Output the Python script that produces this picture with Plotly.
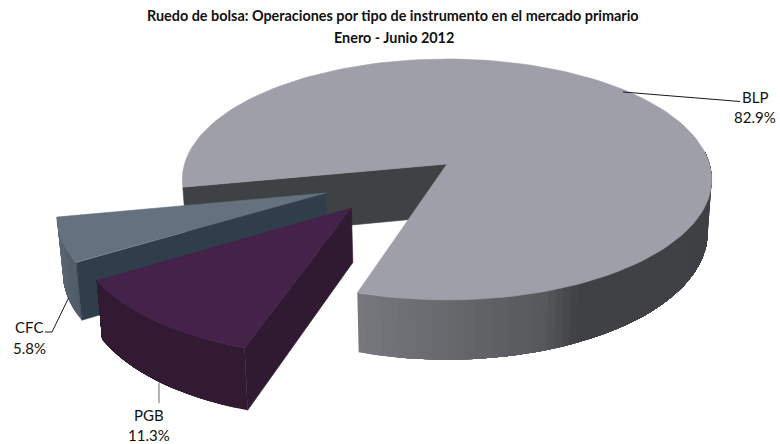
import numpy as np
import plotly.graph_objects as go

# Shares of primary-market operations by instrument (percent)
categories = ["BLP", "PGB", "CFC"]
shares = [82.9, 11.3, 5.8]

title_lines = [
    "Ruedo de bolsa: Operaciones por tipo de instrumento en el mercado primario",
    "Enero - Junio 2012",
]

# Projection of the tilted pie onto the canvas
X0, Y0 = 447.0, 164.0      # pie centre on the top plane
AX, AY = 262.5, 118.5      # horizontal and vertical radii before perspective
K = 0.1286                 # perspective strength
DEPTH = 52.0               # extrusion of the pie
BOTTOM_SCALE = 0.985       # the lower plane sits farther from the eye
START_ANGLE = 191.0        # BLP begins here and runs clockwise

# Pull-out of each slice: distance and direction in pie units, plus slice radius
explode = {
    "BLP": (0.0, 0.0, 1.0),
    "PGB": (0.496, 225.5, 0.985),
    "CFC": (0.507, 207.9, 0.975),
}

top_colors = {"BLP": "#9e9fa9", "PGB": "#45224a", "CFC": "#65717e"}
cut_colors = {"BLP": "#3f4245", "PGB": "#2f1a32", "CFC": "#2f3e4a"}
rim_stops = {
    "BLP": [(0.0, (0x76, 0x78, 0x7e)), (0.16, (0x66, 0x68, 0x6c)), (0.32, (0x56, 0x58, 0x5c)),
            (0.38, (0x40, 0x43, 0x46)), (1.0, (0x3e, 0x41, 0x44))],
    "PGB": [(0.0, (0x33, 0x1a, 0x33)), (1.0, (0x33, 0x1a, 0x33))],
    "CFC": [(0.0, (0x52, 0x5d, 0x69)), (1.0, (0x60, 0x6a, 0x76))],
}


def project(angle_deg, radius, name, bottom=False):
    """Map a polar position on a slice to canvas coordinates."""
    dist, direction, _ = explode[name]
    a = np.radians(angle_deg)
    d = np.radians(direction)
    u = radius * np.cos(a) + dist * np.cos(d)
    v = radius * np.sin(a) + dist * np.sin(d)
    w = 1 + K * v
    scale = BOTTOM_SCALE if bottom else 1.0
    x = X0 + scale * AX * u / w
    y = Y0 - AY * v / w
    if bottom:
        y = y + DEPTH / w
    return x, y


def ramp(stops, t):
    for (t0, c0), (t1, c1) in zip(stops, stops[1:]):
        if t <= t1:
            f = (t - t0) / (t1 - t0)
            return "rgb(%d,%d,%d)" % tuple(c0[i] + f * (c1[i] - c0[i]) for i in range(3))
    return "rgb(%d,%d,%d)" % stops[-1][1]


fig = go.Figure()


def polygon(xs, ys, color, width=0.6):
    fig.add_trace(go.Scatter(
        x=list(xs) + [xs[0]], y=list(ys) + [ys[0]], mode="lines", fill="toself",
        fillcolor=color, line=dict(color=color, width=width),
        hoverinfo="skip", showlegend=False,
    ))


def draw_rim(name, a_from, a_to, segments):
    # Each band runs to the far end of the arc and the next one paints over it,
    # so neighbouring colours meet without hairline gaps.
    edges = np.linspace(a_from, a_to, segments + 1)
    radius = explode[name][2]
    for i in range(segments):
        t = i / max(segments - 1, 1)
        arc = edges[i:]
        upper = [project(a, radius, name) for a in arc]
        lower = [project(a, radius, name, bottom=True) for a in arc[::-1]]
        pts = upper + lower
        polygon([p[0] for p in pts], [p[1] for p in pts], ramp(rim_stops[name], t), width=0)


def draw_cut(name, angle):
    radius = explode[name][2]
    xa, ya = project(0, 0, name)
    xb, yb = project(0, 0, name, bottom=True)
    xc, yc = project(angle, radius, name, bottom=True)
    xd, yd = project(angle, radius, name)
    polygon([xa, xd, xc, xb], [ya, yd, yc, yb], cut_colors[name])


def draw_top(name, a_from, a_to):
    radius = explode[name][2]
    angles = np.linspace(a_from, a_to, 160)
    pts = [project(a, radius, name) for a in angles]
    xa, ya = project(0, 0, name)
    polygon([xa] + [p[0] for p in pts], [ya] + [p[1] for p in pts], top_colors[name])


# Slice spans, clockwise from the start angle
spans = {}
cursor = START_ANGLE
for cat, share in zip(categories, shares):
    sweep = share * 3.6
    spans[cat] = (cursor, cursor - sweep)
    cursor -= sweep

# BLP, farthest from the eye
blp_start, blp_end = spans["BLP"]
draw_cut("BLP", blp_start)
draw_rim("BLP", blp_end, 6, 70)
draw_top("BLP", blp_start, blp_end)

# CFC: its outer rim, then the cut face turned toward the viewer
cfc_start, cfc_end = spans["CFC"]
draw_rim("CFC", cfc_start, cfc_end, 16)
draw_cut("CFC", cfc_start)
draw_top("CFC", cfc_start, cfc_end)

# PGB, nearest to the eye
pgb_start, pgb_end = spans["PGB"]
draw_rim("PGB", pgb_start, pgb_end, 16)
draw_cut("PGB", pgb_start)
draw_top("PGB", pgb_start, pgb_end)

# Leader lines
leaders = [
    ([623, 740], [92, 101.5], "#1a1a1a"),
    ([68.5, 52, 45], [298, 332, 332], "#1a1a1a"),
    ([159, 159], [383, 403], "#6a6a6a"),
]
for lx, ly, lc in leaders:
    fig.add_trace(go.Scatter(x=lx, y=ly, mode="lines", line=dict(color=lc, width=1),
                             hoverinfo="skip", showlegend=False))

FONT = "Lato"
annotations = []


def text(x, y, s, size=15, bold=False):
    annotations.append(dict(
        x=x, y=y, xref="x", yref="y", text=f"<b>{s}</b>" if bold else s,
        showarrow=False, xanchor="center", yanchor="middle",
        font=dict(family=FONT, size=size, color="#111111"),
    ))


text(392.5, 15, title_lines[0], size=14.4, bold=True)
text(394, 37, title_lines[1], size=14.4, bold=True)

label_pos = {"BLP": (755, 97, 117), "CFC": (29, 327, 348), "PGB": (149, 415, 435)}
for cat, share in zip(categories, shares):
    lx, y1, y2 = label_pos[cat]
    text(lx, y1, cat)
    text(lx, y2, f"{share:.1f}%")

fig.update_layout(
    width=780, height=444, margin=dict(l=0, r=0, t=0, b=0),
    paper_bgcolor="white", plot_bgcolor="white", annotations=annotations,
    xaxis=dict(range=[0, 780], visible=False, fixedrange=True),
    yaxis=dict(range=[444, 0], visible=False, fixedrange=True),
    showlegend=False,
)

fig.write_html("out.html", config={"displayModeBar": False})
